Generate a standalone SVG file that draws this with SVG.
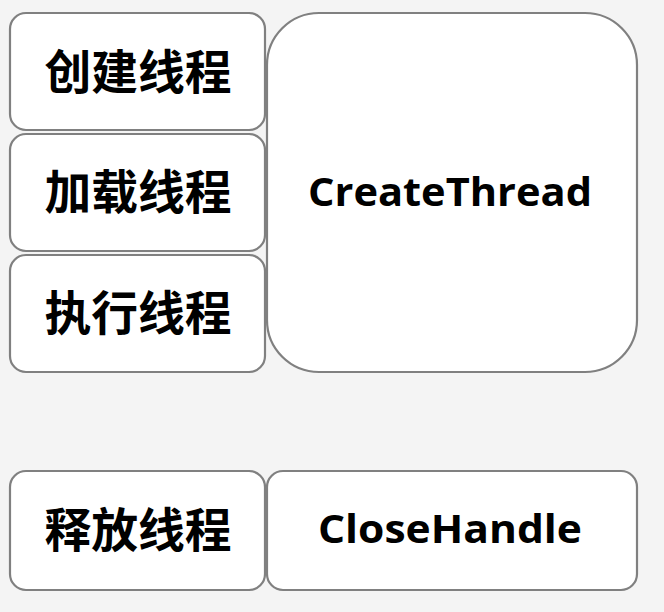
<svg xmlns="http://www.w3.org/2000/svg" width="664" height="612" viewBox="0 0 664 612">
<style>
.box{fill:#ffffff;stroke:#808080;stroke-width:2.2}
.cn{font-family:"Noto Sans CJK SC","Noto Sans",sans-serif;font-weight:700;font-size:47px;fill:#000;text-anchor:middle}
.en{font-family:"Open Sans","Noto Sans",sans-serif;font-weight:700;font-size:39px;fill:#000;text-anchor:middle}
</style>
<rect width="664" height="612" fill="#f4f4f4"/>
<g id="create">
<rect class="box" x="10" y="13" width="255" height="117" rx="16"/>
<text class="cn" x="138" y="89" textLength="187" lengthAdjust="spacingAndGlyphs">创建线程</text>
</g>
<g id="load">
<rect class="box" x="10" y="134" width="255" height="117" rx="16"/>
<text class="cn" x="138" y="209" textLength="187" lengthAdjust="spacingAndGlyphs">加载线程</text>
</g>
<g id="exec">
<rect class="box" x="10" y="255" width="255" height="117" rx="16"/>
<text class="cn" x="138" y="330" textLength="187" lengthAdjust="spacingAndGlyphs">执行线程</text>
</g>
<g id="createthread">
<rect class="box" x="267" y="13" width="370" height="359" rx="52"/>
<text class="en" x="450" y="206" textLength="284" lengthAdjust="spacingAndGlyphs">CreateThread</text>
</g>
<g id="release">
<rect class="box" x="10" y="471" width="255" height="119" rx="16"/>
<text class="cn" x="138" y="547" textLength="187" lengthAdjust="spacingAndGlyphs">释放线程</text>
</g>
<g id="closehandle">
<rect class="box" x="267" y="471" width="370" height="119" rx="16"/>
<text class="en" x="450" y="543" textLength="264" lengthAdjust="spacingAndGlyphs">CloseHandle</text>
</g>
<g id="connectors"></g>
</svg>
